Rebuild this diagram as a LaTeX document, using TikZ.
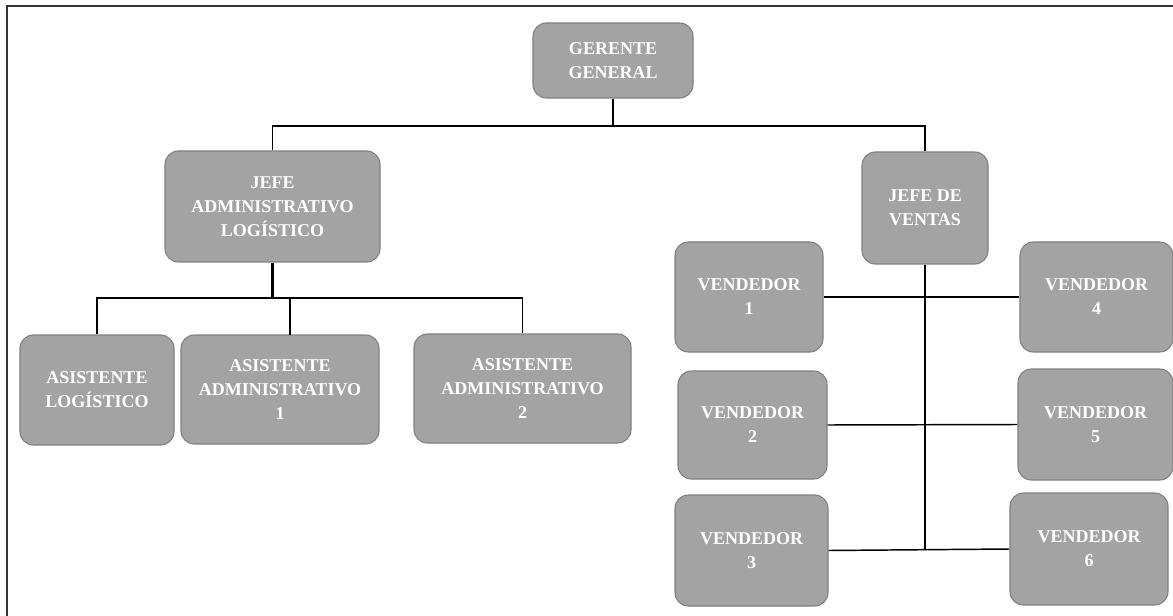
\documentclass[tikz,border=0pt]{standalone}
\usepackage{fontspec}
\setmainfont{Liberation Serif}
\begin{document}
\begin{tikzpicture}[x=0.75pt,y=-0.75pt,
  box/.style={draw=black!50, line width=0.8pt, fill=black!36, rounded corners=10pt,
    inner sep=0pt, align=center, text=white, font=\bfseries\fontsize{13.5}{18}\selectfont},
  conn/.style={line width=1.1pt, black},
  trunk/.style={line width=1.8pt, black}]
\useasboundingbox (0,0) rectangle (1173,616);
\fill[white] (0,0) rectangle (1173,616);
\draw[line width=1.4pt, black!80] (7,616) -- (7,6) -- (1173,6);

\node[box, minimum width=120pt, minimum height=56.25pt] (G) at (613,60.5) {GERENTE\\GENERAL};
\node[box, minimum width=161.25pt, minimum height=83.25pt] (JA) at (272.5,206.5) {JEFE\\ADMINISTRATIVO\\LOGÍSTICO};
\node[box, minimum width=94.5pt, minimum height=84pt] (JV) at (925,208) {JEFE DE\\VENTAS};
\node[box, minimum width=115.5pt, minimum height=82.5pt] (AL) at (97,390) {ASISTENTE\\LOGÍSTICO};
\node[box, minimum width=148.5pt, minimum height=81.75pt] (AA1) at (280,389.5) {ASISTENTE\\ADMINISTRATIVO\\1};
\node[box, minimum width=162.75pt, minimum height=81.75pt] (AA2) at (522.5,388.5) {ASISTENTE\\ADMINISTRATIVO\\2};
\node[box, minimum width=111pt, minimum height=82.5pt] (V1) at (749,297) {VENDEDOR\\1};
\node[box, minimum width=114.75pt, minimum height=82.5pt] (V4) at (1096.5,297) {VENDEDOR\\4};
\node[box, minimum width=111.75pt, minimum height=81pt] (V2) at (752.5,425) {VENDEDOR\\2};
\node[box, minimum width=116.25pt, minimum height=83.25pt] (V5) at (1095.5,424.5) {VENDEDOR\\5};
\node[box, minimum width=114.75pt, minimum height=83.25pt] (V3) at (751.5,550.5) {VENDEDOR\\3};
\node[box, minimum width=118.5pt, minimum height=84pt] (V6) at (1089,549) {VENDEDOR\\6};

\coordinate (g1) at (613,126);
\draw[conn] (G.south) -- (g1);
\draw[conn] (JA.north) |- (g1) -| (JV.north);

\coordinate (ja1) at (272.5,298);
\coordinate (a1) at (290,334.75);
\draw[trunk] (JA.south) -- (ja1);
\draw[conn] (AL.north) |- (ja1) -| (AA2.north);
\draw[conn] (a1) |- (ja1);

\coordinate (jv3) at (925,550);
\draw[trunk] (JV.south) -- (jv3);
\draw[conn] (V1.east) -- (V4.west);
\draw[conn] (V2.east) -- (V5.west);
\draw[conn] (V3.east) -- (V6.west);
\end{tikzpicture}
\end{document}
